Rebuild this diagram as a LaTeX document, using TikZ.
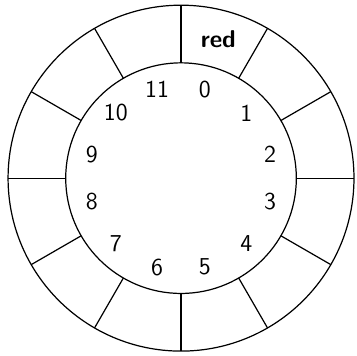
\documentclass[tikz,border=0pt]{standalone}
\usepackage{tikz}

\begin{document}
\begin{tikzpicture}[font=\large\sffamily, line width=0.6pt]
      \useasboundingbox (-3.14,-3.085) rectangle (3.035,3.09);
      % Define coordinates
      \coordinate (centre) at (0, 0);

      % Draw the outer and inner rings
      \draw (centre) circle (3);
      \draw (centre) circle (2);

      % Draw the spokes and number the slots
      \foreach \k in {0,...,11} {
        \coordinate (inner\k) at (90-30*\k:2);
        \coordinate (outer\k) at (90-30*\k:3);
        \draw (inner\k) -- (outer\k);
        \node (slot\k) at (75-30*\k:1.6) {\k};
      }

      % Label the first cell of the ring
      \node[font=\large\sffamily\bfseries] (cell0) at (75:2.5) {red};
\end{tikzpicture}
\end{document}
